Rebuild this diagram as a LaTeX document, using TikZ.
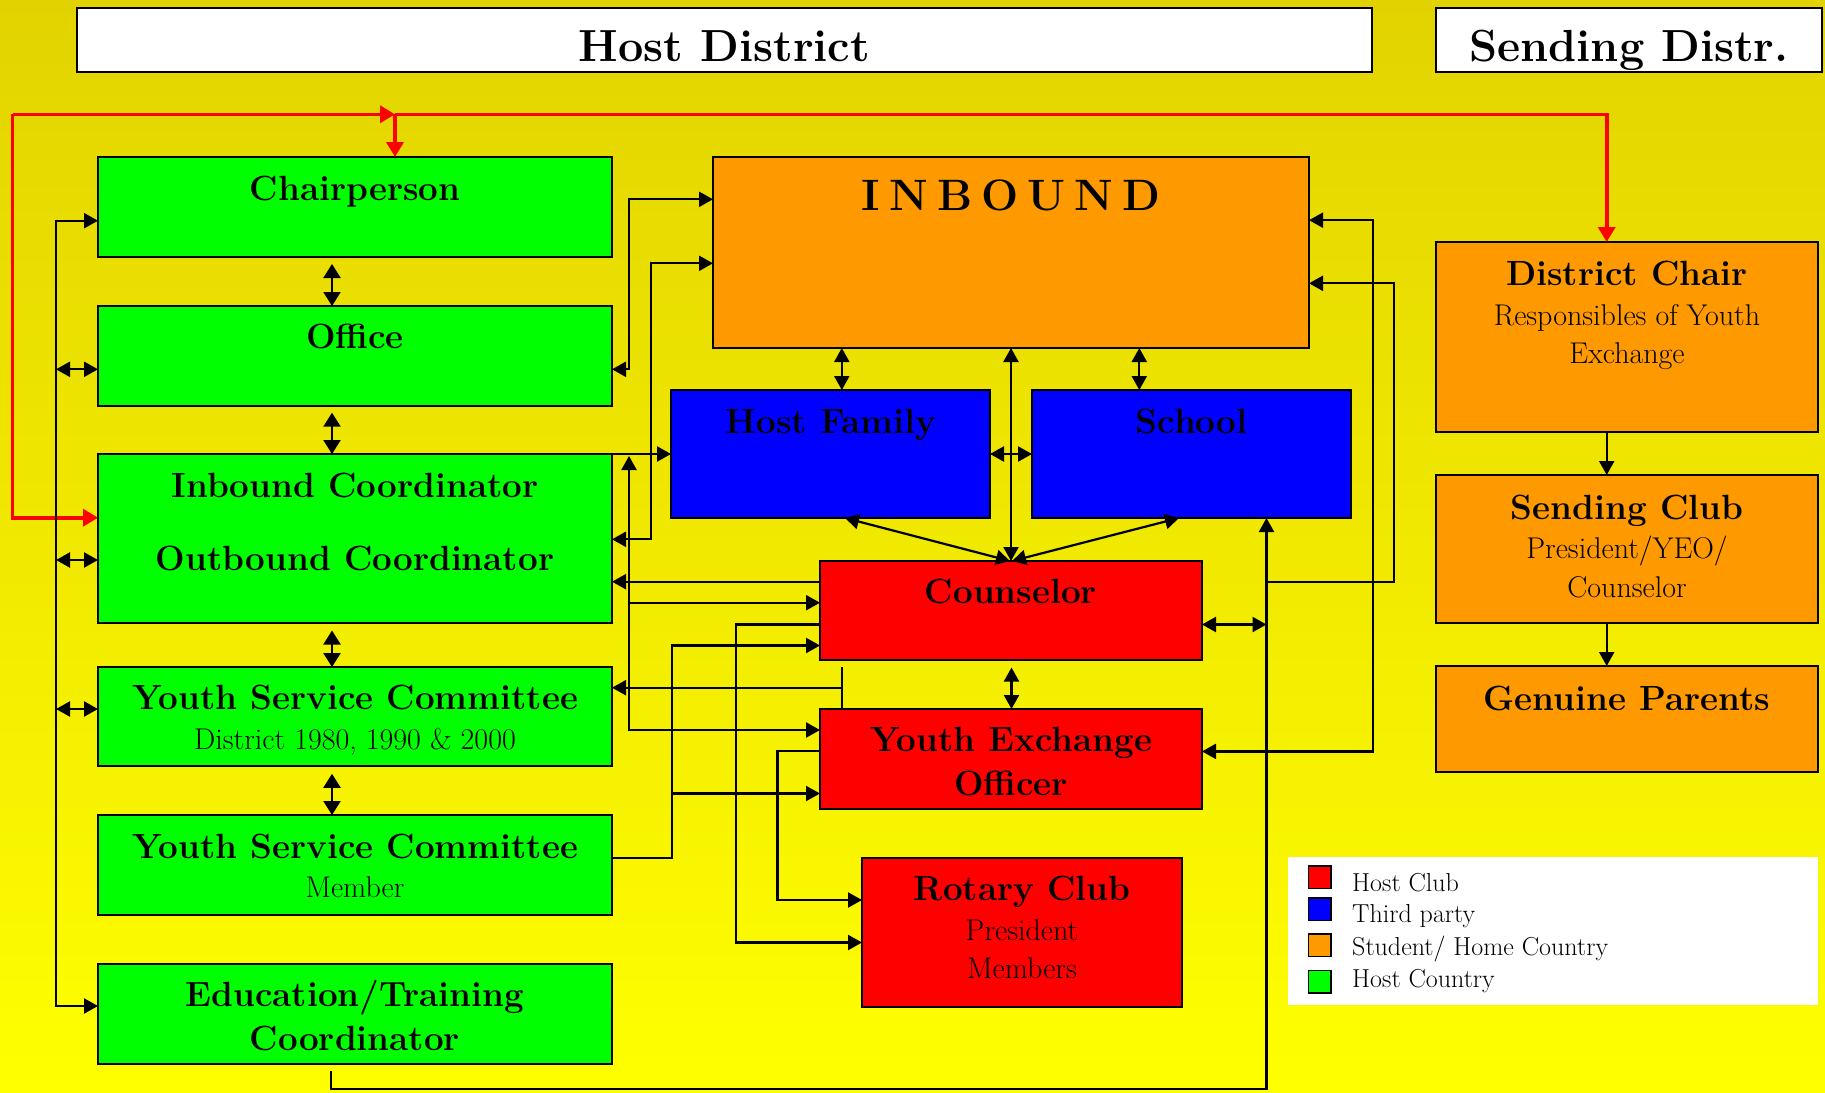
\documentclass[tikz,border=0pt]{standalone}
\usetikzlibrary{arrows.meta}
\definecolor{GreenC}{RGB}{0,255,0}
\definecolor{OrangeC}{RGB}{255,153,0}
\definecolor{BlueC}{RGB}{0,0,255}
\definecolor{RedC}{RGB}{255,0,0}
\definecolor{BgTop}{RGB}{226,211,0}
\definecolor{BgBot}{RGB}{255,255,0}
\newcommand{\mkbox}[6]{\node[#1, minimum width={(#4-#2)*1pt}, minimum height={(#5-#3)*1pt}] (#6) at ({(#2+#4)/2},{(#3+#5)/2}) {};}
\tikzset{
  box/.style={draw=black, line width=2pt, inner sep=0pt, outer sep=0pt},
  grn/.style={box, fill=GreenC},
  org/.style={box, fill=OrangeC},
  blu/.style={box, fill=BlueC},
  rdb/.style={box, fill=RedC},
  wht/.style={box, fill=white},
  lsq/.style={draw=black, line width=1.6pt, inner sep=0pt, outer sep=0pt},
  bt/.style={anchor=base, inner sep=0pt, font=\fontsize{35}{40}\selectfont\bfseries},
  rt/.style={anchor=base, inner sep=0pt, font=\fontsize{30}{36}\selectfont},
  tt/.style={anchor=base, inner sep=0pt, font=\fontsize{45}{50}\selectfont\bfseries},
  lt/.style={anchor=base west, inner sep=0pt, font=\fontsize{26}{30}\selectfont},
  wire/.style={draw=black, line width=2.2pt},
  onearrow/.style={wire, -{Triangle[length=14pt,width=15pt]}},
  twoarrow/.style={wire, {Triangle[length=14pt,width=15pt]}-{Triangle[length=14pt,width=15pt]}},
  bigtwo/.style={wire, {Triangle[length=14pt,width=17pt]}-{Triangle[length=14pt,width=17pt]}},
  redline/.style={draw=RedC, line width=3.6pt},
  redarrow/.style={redline, -{Triangle[length=15pt,width=17pt]}},
}
\begin{document}
\begin{tikzpicture}[x=1pt,y=-1pt]
\useasboundingbox (0,0) rectangle (1825,1092);
\shade[top color=BgTop, bottom color=BgBot] (0,0) rectangle (1825,1092);

% title boxes
\mkbox{wht}{77}{8}{1372}{72}{hostD}
\mkbox{wht}{1436}{8}{1822}{72}{sendD}
\node[tt] (hostDT) at (724.5,61) {Host District};
\node[tt] (sendDT) at (1629,61) {Sending Distr.};

% green boxes
\mkbox{grn}{98}{157}{612}{257}{chair}
\mkbox{grn}{98}{306}{612}{406}{office}
\mkbox{grn}{98}{454}{612}{623}{coord}
\mkbox{grn}{98}{667}{612}{766}{yscd}
\mkbox{grn}{98}{815}{612}{915}{yscm}
\mkbox{grn}{98}{964}{612}{1064}{edu}

% middle boxes
\mkbox{org}{713}{157}{1309}{348}{inb}
\mkbox{blu}{671}{390}{990}{518}{hf}
\mkbox{blu}{1032}{390}{1351}{518}{school}
\mkbox{rdb}{820}{561}{1202}{660}{couns}
\mkbox{rdb}{820}{709}{1202}{809}{yeo}
\mkbox{rdb}{862}{858}{1182}{1007}{rotary}

% right column
\mkbox{org}{1436}{242}{1818}{432}{dc}
\mkbox{org}{1436}{475}{1818}{623}{sc}
\mkbox{org}{1436}{666}{1818}{772}{gp}

% legend
\mkbox{box, draw=none, fill=white}{1288}{857}{1818}{1005}{legend}
\mkbox{lsq, fill=RedC}{1308.5}{866}{1331}{888.5}{sqR}
\mkbox{lsq, fill=BlueC}{1308.5}{898}{1331}{920.5}{sqB}
\mkbox{lsq, fill=OrangeC}{1308.5}{934}{1331}{956.5}{sqO}
\mkbox{lsq, fill=GreenC}{1308.5}{970.5}{1331}{993}{sqG}
\node[lt] (lgR) at (1352,891) {Host Club};
\node[lt] (lgB) at (1352,922) {Third party};
\node[lt] (lgO) at (1352,955) {Student/ Home Country};
\node[lt] (lgG) at (1352,987) {Host Country};

% texts
\node[bt] (chairT) at (355,200) {Chairperson};
\node[bt] (officeT) at (355,348) {Office};
\node[bt] (coordT1) at (355,497) {Inbound Coordinator};
\node[bt] (coordT2) at (355,570) {Outbound Coordinator};
\node[bt] (yscdT1) at (355,709) {Youth Service Committee};
\node[rt] (yscdT2) at (355,749) {District 1980, 1990 \& 2000};
\node[bt] (yscmT1) at (355,858.5) {Youth Service Committee};
\node[rt] (yscmT2) at (355,897.5) {Member};
\node[bt] (eduT1) at (355,1006) {Education/Training};
\node[bt] (eduT2) at (355,1050) {Coordinator};

\node[anchor=base, inner sep=0pt, font=\fontsize{44}{50}\selectfont\bfseries] (inbT) at (1011,210) {\spaceskip=9pt\relax I N B O U N D};
\node[bt] (hfT) at (831,433) {Host Family};
\node[bt] (schT) at (1191.5,433) {School};
\node[bt] (counsT) at (1011,603.5) {Counselor};
\node[bt] (yeoT1) at (1011,751) {Youth Exchange};
\node[bt] (yeoT2) at (1011,795) {Officer};
\node[bt] (rotT1) at (1022,900) {Rotary Club};
\node[rt] (rotT2) at (1022,940.5) {President};
\node[rt] (rotT3) at (1022,978) {Members};

\node[bt] (dcT1) at (1627,285.5) {District Chair};
\node[rt] (dcT2) at (1627,325) {Responsibles of Youth};
\node[rt] (dcT3) at (1627,363) {Exchange};
\node[bt] (scT1) at (1627,519.5) {Sending Club};
\node[rt] (scT2) at (1627,558.5) {President/YEO/};
\node[rt] (scT3) at (1627,597) {Counselor};
\node[bt] (gpT) at (1627,710) {Genuine Parents};

% red connectors
\coordinate (rTL) at (12.5,114.3);
\coordinate (rJ) at (395,114.3);
\coordinate (rR) at (1606.7,114.3);
\coordinate (rBL) at (12.5,517.7);
\draw[redarrow] (rTL) -- (rJ);
\draw[redarrow] (rJ) -- (chair.north -| rJ);
\draw[redarrow] (rJ) -- (rR) -- (dc.north -| rR);
\draw[redarrow] (rTL) -- (rBL) -- (coord.west |- rBL);

% left bus
\draw[twoarrow] (chair.west |- 0,220.7) -- (56,220.7) -- (56,1006) -- (edu.west |- 0,1006);
\draw[twoarrow] (56,369.3) -- (office.west |- 0,369.3);
\draw[twoarrow] (56,560) -- (coord.west |- 0,560);
\draw[twoarrow] (56,709) -- (yscd.west |- 0,709);

% vertical arrows between green boxes
\draw[bigtwo] (332,264) -- (office.north -| 332,0);
\draw[bigtwo] (332,412.7) -- (coord.north -| 332,0);
\draw[bigtwo] (332,630.5) -- (yscd.north -| 332,0);
\draw[bigtwo] (332,773.8) -- (yscm.north -| 332,0);

% green -> INBOUND / host family
\draw[twoarrow] (office.east |- 0,369.3) -- (629,369.3) -- (629,199.3) -- (inb.west |- 0,199.3);
\draw[twoarrow] (coord.east |- 0,539.3) -- (651,539.3) -- (651,263.3) -- (inb.west |- 0,263.3);
\draw[onearrow] (coord.north east) -- (hf.west |- coord.north east);

% tree at x 629
\draw[twoarrow] (629,456) -- (629,730) -- (yeo.west |- 0,730);
\draw[onearrow] (629,602.7) -- (couns.west |- 0,602.7);

% counselor -> coord
\draw[onearrow] (couns.west |- 0,581.7) -- (coord.east |- 0,581.7);
% counselor -> rotary
\draw[onearrow] (couns.west |- 0,624.5) -- (736,624.5) -- (736,942.5) -- (rotary.west |- 0,942.5);
% YSC member -> counselor, YEO
\draw[onearrow] (yscm.east |- 0,857.6) -- (671.8,857.6) -- (671.8,645.5) -- (couns.west |- 0,645.5);
\draw[onearrow] (671.8,793.5) -- (yeo.west |- 0,793.5);
% stub -> YSC district
\draw[wire] (841.7,667) -- (yeo.north -| 841.7,0);
\draw[onearrow] (841.7,687.7) -- (yscd.east |- 0,687.7);
% YEO -> rotary
\draw[onearrow] (yeo.west |- 0,751) -- (777.5,751) -- (777.5,900) -- (rotary.west |- 0,900);

% INBOUND links
\draw[twoarrow] (inb.south -| 841.8,0) -- (hf.north -| 841.8,0);
\draw[twoarrow] (inb.south -| 1139.3,0) -- (school.north -| 1139.3,0);
\draw[twoarrow] (inb.south -| 1011,0) -- (couns.north -| 1011,0);
\draw[twoarrow] (hf.east |- 0,454) -- (school.west |- 0,454);
\draw[twoarrow] (hf.south -| 845,0) -- (couns.north -| 1010,0);
\draw[twoarrow] (school.south -| 1179,0) -- (couns.north -| 1012,0);
\draw[twoarrow] (1011.5,667.5) -- (yeo.north -| 1011.5,0);
\draw[twoarrow] (couns.east |- 0,624.5) -- (1266.5,624.5);

% bottom line and right bus
\draw[onearrow] (331,1071) -- (331,1089) -- (1266.5,1089) -- (school.south -| 1266.5,0);
\draw[onearrow] (1266.5,581.8) -- (1393.7,581.8) -- (1393.7,283.3) -- (inb.east |- 0,283.3);
\draw[twoarrow] (yeo.east |- 0,751.4) -- (1372.7,751.4) -- (1372.7,220.2) -- (inb.east |- 0,220.2);

% right column arrows
\draw[onearrow] (dc.south -| 1606.7,0) -- (sc.north -| 1606.7,0);
\draw[onearrow] (sc.south -| 1606.7,0) -- (gp.north -| 1606.7,0);
\end{tikzpicture}
\end{document}
